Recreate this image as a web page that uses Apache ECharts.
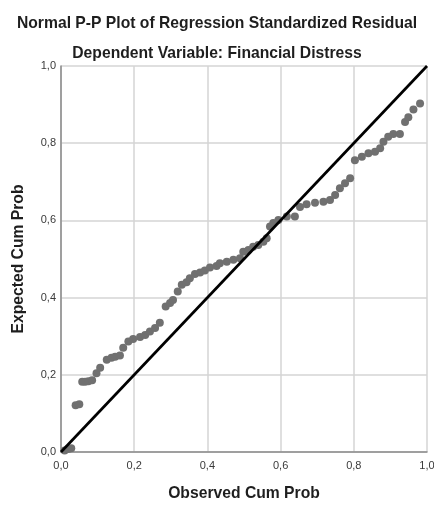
<!DOCTYPE html>
<html>
<head>
<meta charset="utf-8">
<script src="https://cdn.jsdelivr.net/npm/echarts@6/dist/echarts.min.js"></script>
<style>html,body{margin:0;padding:0;background:#fff;}#c{width:434px;height:505px;}</style>
</head>
<body>
<div id="c"></div>
<script>
var observedCumProb = [0.010,0.020,0.028,0.040,0.050,0.058,0.066,0.075,0.085,0.097,0.107,0.125,0.138,0.148,0.161,0.170,0.184,0.197,0.216,0.230,0.243,0.257,0.270,0.286,0.298,0.306,0.319,0.330,0.343,0.352,0.366,0.380,0.393,0.407,0.425,0.434,0.453,0.471,0.489,0.498,0.512,0.525,0.539,0.553,0.562,0.571,0.580,0.594,0.617,0.639,0.653,0.671,0.694,0.717,0.735,0.749,0.762,0.776,0.790,0.803,0.822,0.840,0.858,0.872,0.881,0.894,0.908,0.926,0.940,0.949,0.963,0.981];
var expectedCumProb = [0.004,0.008,0.010,0.121,0.124,0.182,0.182,0.183,0.186,0.204,0.218,0.239,0.244,0.247,0.250,0.270,0.286,0.293,0.298,0.303,0.312,0.321,0.335,0.377,0.386,0.394,0.416,0.433,0.440,0.450,0.461,0.465,0.470,0.478,0.482,0.489,0.493,0.498,0.502,0.519,0.523,0.532,0.536,0.545,0.554,0.584,0.593,0.601,0.610,0.610,0.635,0.642,0.646,0.648,0.653,0.666,0.683,0.696,0.709,0.756,0.765,0.774,0.778,0.787,0.804,0.817,0.824,0.824,0.855,0.867,0.887,0.903];
var refLine = [[0,0],[1,1]];
var titleText = 'Normal P-P Plot of Regression Standardized Residual';
var subtitleText = 'Dependent Variable: Financial Distress';
var xName = 'Observed Cum Prob';
var yName = 'Expected Cum Prob';

var points = observedCumProb.map(function(x,i){return [x, expectedCumProb[i]];});
var fmt = function(v){return v.toFixed(1).replace('.', ',');};
var chart = echarts.init(document.getElementById('c'), null, {renderer:'canvas'});
var boldText = {fontFamily:'Liberation Sans', fontWeight:'bold', fontSize:15.7, color:'#1e1e1e'};
var axisCommon = {
  type:'value', min:0, max:1, interval:0.2,
  axisLine:{show:true, lineStyle:{color:'#8a8a8a', width:1.5}},
  axisTick:{show:false},
  splitLine:{show:true, lineStyle:{color:'#d4d4d4', width:1.5}},
  axisLabel:{formatter:fmt, color:'#3a3a3a', fontFamily:'Liberation Sans', fontSize:11}
};
chart.setOption({
  backgroundColor:'#ffffff',
  animation:false,
  title:[
    {text:titleText, left:'center', top:11, textStyle:boldText},
    {text:subtitleText, left:'center', top:41, textStyle:boldText}
  ],
  grid:{left:61, right:7, top:66, bottom:53, containLabel:false, outerBoundsMode:'none'},
  xAxis:Object.assign({}, axisCommon, {
    name:xName, nameLocation:'middle', nameGap:34,
    nameTextStyle:boldText,
    axisLabel:Object.assign({}, axisCommon.axisLabel, {margin:8})
  }),
  yAxis:Object.assign({}, axisCommon, {
    name:yName, nameLocation:'middle', nameGap:34,
    nameTextStyle:boldText,
    axisLabel:Object.assign({}, axisCommon.axisLabel, {margin:5})
  }),
  series:[
    {type:'scatter', data:points, symbolSize:8, itemStyle:{color:'#707070', opacity:1}, z:2},
    {type:'line', data:refLine, symbol:'none', lineStyle:{color:'#000', width:2.7}, z:3}
  ]
});
</script>
</body>
</html>
